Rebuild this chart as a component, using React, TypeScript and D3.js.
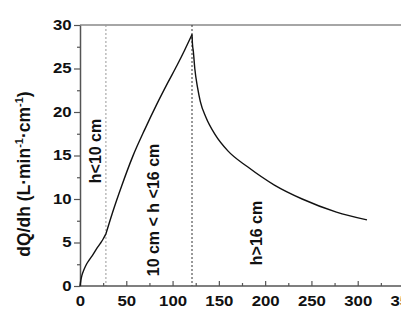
import { useEffect, useRef } from "react";
import * as d3 from "d3";

// flow-rate derivative curve, three regimes
const riseX = [0, 1, 2, 4, 7, 10, 14, 18, 22, 25, 28];
const riseY = [0, 0.7, 1.2, 1.8, 2.5, 3.0, 3.6, 4.3, 4.9, 5.4, 6.0];
const midX = [28, 35, 45, 57, 70, 83, 95, 105, 113, 121];
const midY = [6.0, 8.4, 11.5, 14.9, 18.0, 20.9, 23.4, 25.4, 27.1, 28.9];
const decayX = [121, 121.5, 122.4, 124, 127, 130, 136, 146, 160, 181, 210, 240, 277, 310];
const decayY = [28.9, 27.8, 27.0, 25.0, 22.8, 21.2, 19.4, 17.4, 15.5, 13.7, 11.6, 10.0, 8.5, 7.6];

const boundaries = [28, 121];
const xTicks = [0, 50, 100, 150, 200, 250, 300, 350];
const yTicks = [0, 5, 10, 15, 20, 25, 30];

const W = 401;
const H = 322;
const margin = { top: 25, bottom: 36, left: 80 };

const App = () => {
  const ref = useRef<SVGSVGElement>(null);

  useEffect(() => {
    const svg = d3.select(ref.current!);
    svg.selectAll("*").remove();

    const x = d3.scaleLinear().domain([0, 350]).range([margin.left, 404]);
    const y = d3.scaleLinear().domain([0, 30]).range([H - margin.bottom, margin.top]);

    const font = "'Liberation Sans', Arial, sans-serif";
    const axisColor = "#555";

    // top frame line
    svg
      .append("line")
      .attr("x1", x(0))
      .attr("x2", W)
      .attr("y1", y(30))
      .attr("y2", y(30))
      .attr("stroke", "#888")
      .attr("stroke-width", 1.5);

    // regime boundaries
    boundaries.forEach((b, i) => {
      svg
        .append("line")
        .attr("x1", x(b))
        .attr("x2", x(b))
        .attr("y1", y(30))
        .attr("y2", y(0))
        .attr("stroke", i === 0 ? "#999" : "#333")
        .attr("stroke-width", 1)
        .attr("stroke-dasharray", "2,2");
    });

    // minor ticks
    const gxMinor = svg
      .append("g")
      .attr("transform", `translate(0,${y(0)})`)
      .call(
        d3.axisBottom(x).tickValues(d3.range(25, 350, 50)).tickSize(-3).tickFormat(() => "")
      );
    const gyMinor = svg
      .append("g")
      .attr("transform", `translate(${x(0)},0)`)
      .call(
        d3.axisLeft(y).tickValues(d3.range(2.5, 30, 5)).tickSize(3).tickFormat(() => "")
      );
    [gxMinor, gyMinor].forEach((g) => {
      g.select(".domain").remove();
      g.selectAll("line").attr("stroke", axisColor).attr("stroke-width", 1.2);
    });

    const gx = svg
      .append("g")
      .attr("transform", `translate(0,${y(0)})`)
      .call(
        d3.axisBottom(x).tickValues(xTicks).tickSize(-5).tickSizeOuter(0).tickPadding(10)
      );
    const gy = svg
      .append("g")
      .attr("transform", `translate(${x(0)},0)`)
      .call(d3.axisLeft(y).tickValues(yTicks).tickSize(6).tickSizeOuter(0).tickPadding(1));

    [gx, gy].forEach((g) => {
      g.select(".domain").attr("stroke", axisColor).attr("stroke-width", 1.5);
      g.selectAll("line").attr("stroke", axisColor).attr("stroke-width", 1.2);
      g.selectAll("text")
        .attr("font-family", font)
        .attr("font-weight", "bold")
        .attr("font-size", 14)
        .attr("transform", "scale(1.2,1)")
        .attr("fill", "#111");
    });
    gx.select(".domain").attr("d", `M${x(0)},0H${W}`);

    const line = d3.line<number>().curve(d3.curveMonotoneX);

    const segs: [number[], number[]][] = [
      [riseX, riseY],
      [midX, midY],
      [decayX, decayY],
    ];
    segs.forEach(([xs, ys]) => {
      line.x((_, i) => x(xs[i])).y((_, i) => y(ys[i]));
      svg
        .append("path")
        .attr("d", line(xs)!)
        .attr("fill", "none")
        .attr("stroke", "#111")
        .attr("stroke-width", 1.4);
    });

    // axis title
    const title = svg
      .append("text")
      .attr("transform", `translate(30,174) rotate(-90)`)
      .attr("text-anchor", "middle")
      .attr("font-family", font)
      .attr("font-weight", "bold")
      .attr("font-size", 17.5)
      .attr("fill", "#111");
    title.append("tspan").text("dQ/dh (L·min");
    title.append("tspan").attr("dy", -7).attr("font-size", 11).text("-1");
    title.append("tspan").attr("dy", 7).text("·cm");
    title.append("tspan").attr("dy", -7).attr("font-size", 11).text("-1");
    title.append("tspan").attr("dy", 7).text(")");

    const notes = [
      { t: "h<10 cm", cx: 101, cy: 151 },
      { t: "10 cm < h <16 cm", cx: 159, cy: 210 },
      { t: "h>16 cm", cx: 262, cy: 233 },
    ];
    notes.forEach((n) => {
      svg
        .append("text")
        .attr("transform", `translate(${n.cx},${n.cy}) rotate(-90)`)
        .attr("text-anchor", "middle")
        .attr("font-family", font)
        .attr("font-weight", "bold")
        .attr("font-size", 16)
        .attr("fill", "#111")
        .text(n.t);
    });
  }, []);

  return (
    <svg
      ref={ref}
      width={W}
      height={H}
      style={{ position: "absolute", left: 0, top: 0, background: "#fff" }}
    />
  );
};

export default App;
